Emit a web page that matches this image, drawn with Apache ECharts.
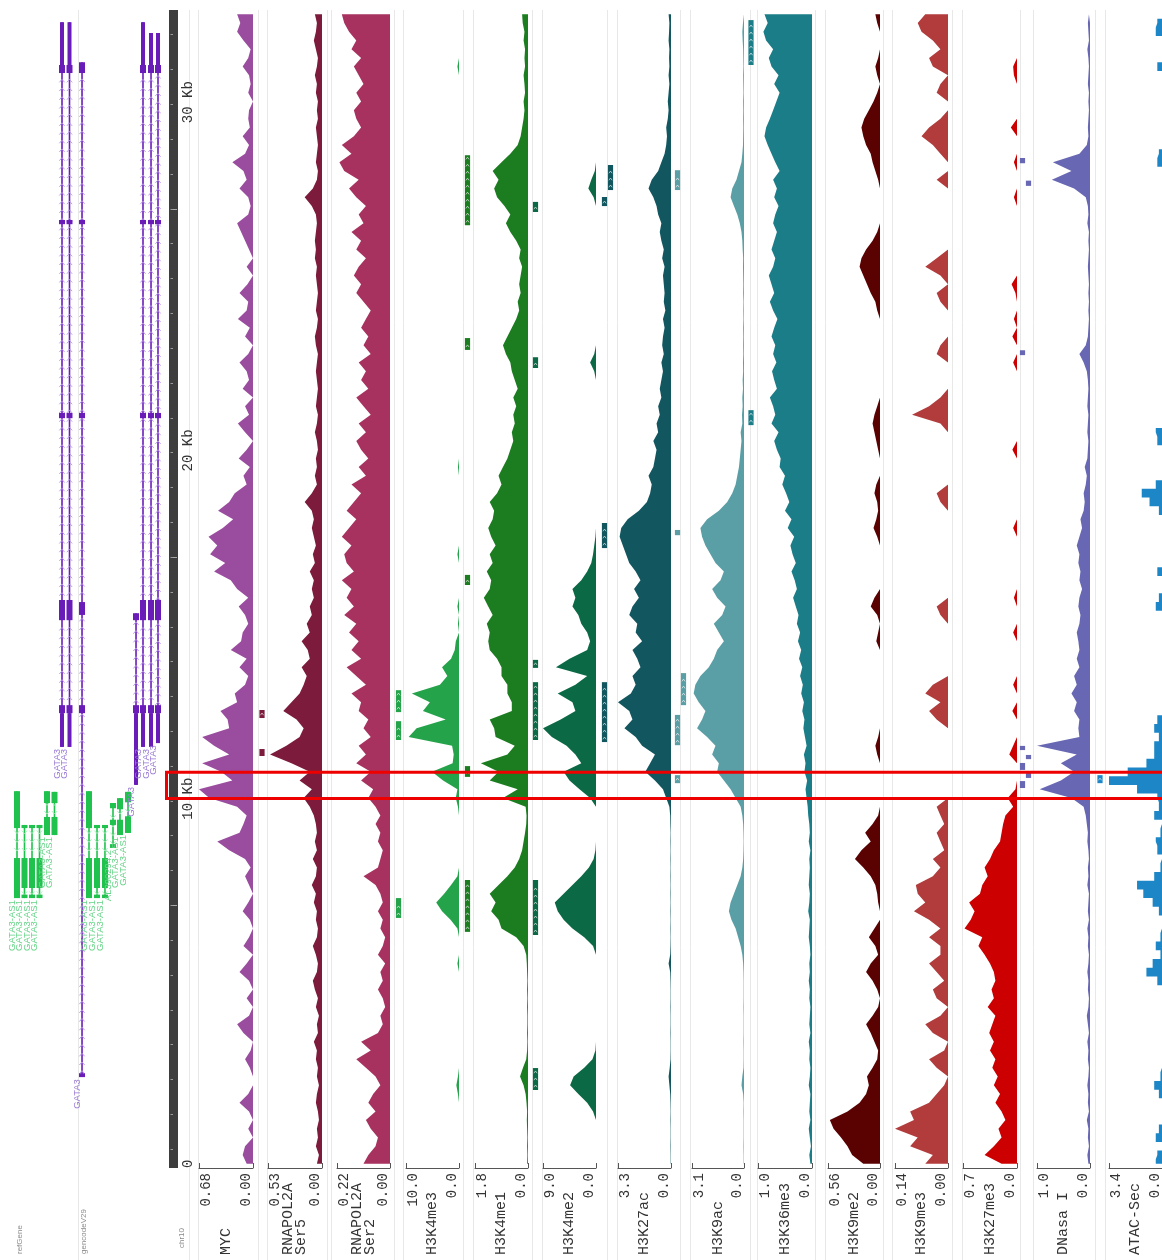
<!DOCTYPE html>
<html>
<head>
<meta charset="utf-8">
<title>GATA3 locus – chromatin tracks</title>
<script src="https://cdn.jsdelivr.net/npm/echarts@6/dist/echarts.min.js"></script>
<style>
  html, body { margin: 0; padding: 0; background: #ffffff; }
  #chart { width: 1162px; height: 1260px; }
</style>
</head>
<body>
<div id="chart"></div>
<script>
// ---------------------------------------------------------------------------
// Genomic window: 0.25 kb bins, bin 0 is the bottom of the view (0 kb)
// ---------------------------------------------------------------------------
const BIN_KB = 0.25;
const N_BINS = 133;
const VIEW_KB = BIN_KB * N_BINS;           // 33.25 kb shown
const binCategories = Array.from({ length: N_BINS }, (_, i) => (i * BIN_KB).toFixed(2));

// ---------------------------------------------------------------------------
// Coverage tracks (one value per bin, bottom -> top)
// ---------------------------------------------------------------------------
const mycSignal = [
  0.08,0.13,0.10,0,0.06,0,0.05,0.17,0.06,0,
  0,0.04,0.10,0.03,0,0.12,0.20,0.05,0,0.08,
  0,0.05,0.17,0.08,0,0.12,0.05,0,0.04,0.13,
  0.06,0,0.05,0.10,0.03,0.10,0.30,0.45,0.17,0.12,
  0.08,0.20,0.55,0.68,0.26,0.40,0.64,0.30,0.49,0.64,
  0.30,0.32,0.41,0.20,0.23,0.10,0.06,0.17,0.08,0.28,
  0.15,0.13,0.06,0.10,0.18,0.06,0.20,0.28,0.49,0.35,
  0.54,0.45,0.56,0.38,0.25,0.44,0.30,0.23,0.08,0.12,
  0.04,0.18,0.08,0,0.10,0.19,0.05,0.10,0,0.13,
  0.05,0.08,0.17,0.06,0,0.10,0.04,0.19,0.08,0.06,
  0.17,0.07,0,0.08,0,0.05,0.10,0.15,0.20,0.06,
  0.03,0.06,0.17,0.08,0.12,0.26,0.10,0.05,0.13,0.04,
  0.06,0.05,0,0.06,0.03,0.05,0.13,0.06,0.03,0.12,
  0.20,0.16,0.20
];
const ser5Signal = [
  0.05,0.03,0.06,0.04,0.05,0.03,0.04,0.06,0.05,0.03,
  0.05,0.04,0.06,0.05,0.08,0.04,0.05,0.03,0.06,0.04,
  0.07,0.09,0.05,0.04,0.06,0.09,0.05,0.04,0.06,0.05,
  0.08,0.06,0.10,0.06,0.05,0.09,0.05,0.07,0.05,0.06,
  0.08,0.12,0.18,0.10,0.22,0.12,0.30,0.51,0.35,0.22,
  0.18,0.25,0.38,0.30,0.22,0.18,0.15,0.20,0.12,0.14,
  0.20,0.12,0.15,0.10,0.12,0.08,0.10,0.08,0.12,0.07,
  0.09,0.06,0.08,0.10,0.08,0.10,0.17,0.10,0.05,0.07,
  0.05,0.06,0.04,0.05,0.07,0.05,0.04,0.06,0.05,0.04,
  0.05,0.06,0.05,0.04,0.06,0.07,0.05,0.04,0.06,0.05,
  0.04,0.05,0.06,0.05,0.07,0.06,0.07,0.06,0.05,0.06,
  0.10,0.17,0.09,0.05,0.04,0.06,0.05,0.04,0.05,0.06,
  0.04,0.05,0.04,0.06,0.05,0.07,0.05,0.04,0.06,0.08,
  0.06,0.05,0.07
];
const ser2Signal = [
  0.11,0.09,0.06,0.05,0.08,0.10,0.06,0.09,0.07,0.04,
  0.06,0.10,0.14,0.08,0.12,0.05,0.03,0.04,0.02,0.03,
  0.05,0.03,0.04,0.02,0.05,0.03,0.02,0.04,0.03,0.05,
  0.03,0.04,0.06,0.11,0.05,0.04,0.03,0.05,0.04,0.06,
  0.04,0.06,0.09,0.07,0.12,0.08,0.14,0.10,0.13,0.08,
  0.11,0.09,0.13,0.12,0.16,0.10,0.14,0.18,0.12,0.16,
  0.13,0.17,0.14,0.19,0.15,0.18,0.16,0.20,0.15,0.18,
  0.19,0.16,0.20,0.17,0.14,0.18,0.15,0.12,0.16,0.10,
  0.13,0.09,0.12,0.14,0.10,0.13,0.08,0.11,0.14,0.09,
  0.12,0.10,0.13,0.08,0.11,0.09,0.12,0.10,0.08,0.11,
  0.14,0.12,0.15,0.13,0.10,0.14,0.12,0.16,0.11,0.13,
  0.10,0.14,0.17,0.13,0.19,0.21,0.16,0.20,0.15,0.12,
  0.14,0.15,0.12,0.14,0.11,0.13,0.15,0.12,0.16,0.14,
  0.17,0.19,0.20
];
const h3k4me3Signal = [
  0,0,0,0,0,0,0,0,0.2,0.5,
  0.2,0,0,0,0,0,0,0,0,0,
  0,0,0,0.3,0,0,0,0.3,1.6,3.2,
  4.3,2.8,1.5,0.3,0,0,0,0,0,0,
  0,0.2,0.6,0.3,3.0,5.1,1.2,1.0,1.3,9.5,
  8.0,2.5,6.8,5.5,8.9,3.6,2.2,3.2,1.5,0.8,
  0.6,0,0.2,0,0.3,0,0,0,0,0,
  0.3,0,0,0,0,0,0,0,0,0,
  0.2,0,0,0,0,0,0,0,0,0,
  0,0,0,0,0,0,0,0,0,0,
  0,0,0,0,0,0,0,0,0,0,
  0,0,0,0,0,0,0,0,0,0,
  0,0,0,0,0,0,0.3,0,0,0,
  0,0,0
];
const h3k4me1Signal = [
  0.03,0.02,0.03,0.02,0.03,0.04,0.03,0.05,0.08,0.15,
  0.27,0.17,0.06,0.03,0.02,0.03,0.02,0.02,0.03,0.02,
  0.03,0.02,0.03,0.04,0.06,0.15,0.4,0.9,1.0,1.25,
  1.1,1.3,1.0,0.7,0.45,0.3,0.2,0.15,0.1,0.06,
  0.05,0.08,0.85,0.35,1.3,1.0,1.6,0.7,0.45,1.1,
  1.15,1.3,0.55,0.55,0.7,0.7,0.9,0.9,1.05,1.3,
  1.35,1.3,1.4,1.2,1.35,1.5,1.3,1.25,1.4,1.2,
  1.3,1.1,1.25,1.35,1.2,1.15,1.3,1.05,0.9,1.0,
  0.85,0.7,0.6,0.5,0.55,0.45,0.5,0.4,0.5,0.35,
  0.45,0.55,0.6,0.75,0.85,0.7,0.55,0.4,0.3,0.35,
  0.25,0.3,0.25,0.2,0.3,0.25,0.4,0.6,0.75,0.6,
  0.8,1.05,1.15,1.0,1.2,0.9,0.6,0.35,0.25,0.2,
  0.15,0.12,0.15,0.1,0.12,0.15,0.1,0.12,0.1,0.15,
  0.12,0.18,0.2
];
const h3k4me2Signal = [
  0,0,0,0,0,0,0.5,1.5,3.0,4.4,
  3.8,2.0,0.6,0.1,0,0,0,0,0,0,
  0,0,0,0,0,0.5,2.0,4.0,5.5,6.5,
  7.0,5.5,4.0,2.5,1.2,0.4,0.1,0,0,0,
  0,0,1.0,2.8,4.5,5.5,2.5,3.5,5.0,7.5,
  9.0,6.0,3.5,4.0,6.5,3.5,1.5,6.8,4.5,1.5,
  1.0,1.5,2.5,3.0,4.0,3.5,4.0,2.5,1.5,0.8,
  0.5,0.3,0.1,0,0,0,0,0,0,0,
  0,0,0,0,0,0,0,0,0,0,
  0,0.3,1.0,0.3,0,0,0,0,0,0,
  0,0,0,0,0,0,0,0,0,0,
  0,0.4,1.3,0.8,0.2,0,0,0,0,0,
  0,0,0,0,0,0,0,0,0,0,
  0,0,0
];
const h3k27acSignal = [
  0.02,0.02,0.03,0.02,0.02,0.03,0.02,0.03,0.05,0.1,
  0.15,0.08,0.03,0.02,0.02,0.03,0.02,0.02,0.03,0.02,
  0.02,0.03,0.05,0.15,0.05,0.03,0.02,0.03,0.02,0.03,
  0.02,0.03,0.02,0.03,0.02,0.03,0.02,0.03,0.02,0.04,
  0.05,0.1,0.3,0.5,1.0,1.6,1.3,1.0,1.8,2.2,
  2.9,2.4,2.6,3.3,2.5,2.2,2.4,1.9,2.1,2.4,
  1.8,2.2,2.1,2.6,2.4,2.0,2.3,1.9,2.2,2.6,
  2.8,3.0,3.2,3.1,2.7,2.0,1.5,1.3,1.2,1.4,
  1.1,1.0,0.9,1.1,0.8,0.9,0.7,0.8,0.6,0.7,
  0.6,0.5,0.6,0.45,0.55,0.5,0.4,0.5,0.35,0.45,
  0.4,0.45,0.5,0.4,0.55,0.45,0.6,0.7,0.6,0.8,
  0.9,1.1,1.4,1.2,0.8,0.6,0.4,0.3,0.25,0.3,
  0.2,0.15,0.2,0.15,0.1,0.15,0.1,0.12,0.1,0.15,
  0.12,0.1,0.15
];
const h3k9acSignal = [
  0.02,0.02,0.03,0.02,0.02,0.02,0.03,0.02,0.05,0.15,
  0.1,0.03,0.02,0.02,0.03,0.02,0.02,0.02,0.03,0.02,
  0.02,0.02,0.03,0.05,0.1,0.2,0.35,0.5,0.75,0.9,
  0.8,0.6,0.4,0.2,0.1,0.05,0.03,0.02,0.03,0.05,
  0.1,0.2,0.5,0.8,1.2,1.6,1.5,1.9,1.7,2.2,
  2.8,2.5,2.3,2.7,3.0,2.9,2.6,2.1,1.8,1.6,
  1.2,1.5,1.8,1.3,1.1,1.6,1.9,1.4,1.2,1.7,
  2.0,2.3,2.5,2.6,2.2,1.5,1.0,0.7,0.5,0.4,
  0.3,0.25,0.2,0.15,0.2,0.1,0.12,0.08,0.1,0.06,
  0.08,0.05,0.06,0.04,0.05,0.04,0.05,0.03,0.04,0.03,
  0.05,0.04,0.05,0.06,0.05,0.08,0.1,0.15,0.25,0.4,
  0.6,0.8,0.7,0.45,0.3,0.15,0.1,0.06,0.05,0.04,
  0.05,0.04,0.05,0.03,0.04,0.05,0.03,0.04,0.05,0.08,
  0.1,0.06,0.05
];
const h3k36me3Signal = [
  0.03,0.05,0.02,0.04,0.06,0.03,0.05,0.04,0.03,0.06,
  0.04,0.03,0.05,0.04,0.06,0.03,0.05,0.04,0.03,0.05,
  0.04,0.06,0.04,0.05,0.03,0.04,0.06,0.05,0.04,0.07,
  0.05,0.04,0.06,0.05,0.04,0.05,0.03,0.06,0.04,0.05,
  0.07,0.08,0.1,0.12,0.09,0.14,0.12,0.15,0.1,0.13,
  0.16,0.14,0.18,0.15,0.2,0.17,0.22,0.18,0.24,0.2,
  0.26,0.22,0.28,0.25,0.3,0.35,0.28,0.32,0.38,0.3,
  0.36,0.4,0.33,0.45,0.38,0.5,0.42,0.48,0.55,0.5,
  0.6,0.58,0.65,0.7,0.62,0.75,0.68,0.72,0.78,0.65,
  0.7,0.74,0.66,0.72,0.68,0.75,0.7,0.64,0.72,0.78,
  0.7,0.75,0.8,0.72,0.68,0.75,0.7,0.65,0.72,0.68,
  0.62,0.7,0.65,0.72,0.6,0.68,0.75,0.82,0.88,0.85,
  0.78,0.72,0.66,0.6,0.7,0.62,0.75,0.8,0.72,0.85,
  0.9,0.82,0.88
];
const h3k9me2Signal = [
  0.18,0.3,0.35,0.42,0.5,0.54,0.35,0.22,0.15,0.12,
  0.14,0.08,0.03,0.02,0.06,0.1,0.15,0.08,0.02,0,
  0.03,0.08,0.15,0.1,0.02,0.05,0.12,0.06,0,0,
  0.02,0.03,0.05,0.1,0.18,0.27,0.2,0.1,0.16,0.08,
  0.02,0,0,0,0,0,0,0.03,0.05,0.02,
  0,0,0,0,0,0,0,0,0,0,
  0.04,0.02,0,0.03,0.1,0.06,0,0,0,0,
  0,0,0.03,0.07,0.04,0.02,0.03,0.06,0.04,0,
  0,0,0.02,0.04,0.06,0.08,0.06,0.03,0,0,
  0,0,0,0,0,0,0,0,0.03,0.05,
  0.1,0.14,0.18,0.22,0.2,0.15,0.08,0.03,0,0,
  0,0,0,0.02,0.05,0.08,0.1,0.15,0.18,0.2,
  0.17,0.12,0.07,0.03,0,0.03,0.05,0.02,0,0,
  0,0.03,0.05
];
const h3k9me3Signal = [
  0.06,0.04,0.1,0.08,0.14,0.09,0.1,0.05,0.03,0.01,
  0,0.03,0.05,0.01,0,0.04,0.06,0.02,0,0.03,
  0.04,0.01,0.03,0.05,0.02,0.02,0.05,0.02,0.05,0.09,
  0.06,0.08,0.085,0.04,0.02,0.04,0.01,0.02,0.03,0.01,
  0.02,0.03,0,0,0,0,0,0,0,0,
  0,0.03,0.05,0.02,0.06,0.04,0,0,0,0,
  0,0,0,0.02,0.03,0,0,0,0,0,
  0,0,0,0,0,0,0.02,0.03,0,0,
  0,0,0,0,0,0.02,0.095,0.05,0.02,0,
  0,0,0,0.03,0.02,0,0,0,0,0.02,
  0.03,0,0.02,0.06,0.03,0,0,0,0,0,
  0,0,0,0.03,0,0,0.02,0.04,0.07,0.05,
  0.02,0,0,0.03,0.02,0,0.04,0.05,0.02,0.04,
  0.07,0.08,0.06
];
const h3k27me3Signal = [
  0.2,0.42,0.3,0.2,0.24,0.15,0.2,0.28,0.22,0.3,
  0.25,0.32,0.28,0.35,0.3,0.36,0.32,0.28,0.38,0.3,
  0.33,0.28,0.3,0.35,0.42,0.5,0.45,0.68,0.6,0.55,
  0.62,0.48,0.45,0.38,0.42,0.35,0.3,0.22,0.2,0.18,
  0.15,0.05,0.12,0.02,0,0,0,0.1,0.05,0,
  0,0,0.06,0,0,0.05,0,0,0,0,
  0,0.05,0,0,0,0.04,0,0,0,0,
  0,0,0,0.05,0,0,0,0,0,0,
  0,0,0.06,0,0,0,0,0,0,0,
  0,0,0.05,0,0,0.06,0,0.04,0,0,
  0.02,0.07,0,0,0,0,0,0,0,0,
  0,0.04,0,0,0,0.04,0,0,0,0.08,
  0,0,0,0,0,0.04,0.05,0,0,0,
  0,0,0
];
const dnaseSignal = [
  0.03,0.05,0.02,0.04,0.03,0.06,0.02,0.04,0.03,0.05,
  0.03,0.02,0.04,0.03,0.05,0.02,0.04,0.06,0.03,0.02,
  0.04,0.03,0.05,0.03,0.02,0.04,0.03,0.05,0.02,0.04,
  0.03,0.02,0.05,0.03,0.04,0.02,0.03,0.05,0.04,0.06,
  0.08,0.12,0.35,0.95,0.55,0.3,0.55,0.25,1.0,0.2,
  0.22,0.2,0.3,0.25,0.35,0.25,0.3,0.2,0.25,0.2,
  0.22,0.25,0.2,0.18,0.22,0.2,0.15,0.2,0.18,0.22,
  0.2,0.25,0.2,0.15,0.18,0.12,0.1,0.12,0.08,0.06,
  0.1,0.05,0.04,0.03,0.05,0.04,0.03,0.05,0.04,0.03,
  0.04,0.06,0.12,0.2,0.08,0.04,0.03,0.02,0.03,0.02,
  0.03,0.02,0.03,0.04,0.03,0.02,0.03,0.02,0.05,0.03,
  0.04,0.08,0.3,0.72,0.35,0.7,0.2,0.06,0.03,0.04,
  0.03,0.02,0.03,0.02,0.04,0.03,0.02,0.03,0.05,0.02,
  0.03,0.04,0.02
];
const atacSignal = [
  0.4,0.3,0,0.4,0.2,0,0,0,0.2,0.5,
  0.1,0,0,0,0,0,0,0,0,0,
  0,0.3,1.0,0.6,0.1,0.4,0.1,0,0,0.2,
  0.6,1.2,1.6,0.5,0.1,0,0.3,0.4,0.1,0,
  0.5,0.2,0.3,1.6,3.4,2.2,1.0,0.5,0.5,0.2,
  0.5,0.3,0,0,0,0,0,0,0,0,
  0,0,0,0,0.4,0.2,0,0,0.3,0,
  0,0,0,0,0,0.2,0.8,1.3,0.4,0,
  0,0,0,0.3,0.4,0,0,0,0,0,
  0,0,0,0,0,0,0,0,0,0,
  0,0,0,0,0,0,0,0,0,0,
  0,0,0,0,0,0.3,0.2,0,0,0,
  0,0,0,0,0,0,0.3,0,0,0,
  0.4,0.3,0
];

// Track names, scale maxima and tick-label precision
const trackNames = ['MYC', 'RNAPOL2A\nSer5', 'RNAPOL2A\nSer2', 'H3K4me3', 'H3K4me1', 'H3K4me2',
  'H3K27ac', 'H3K9ac', 'H3K36me3', 'H3K9me2', 'H3K9me3', 'H3K27me3', 'DNasa I', 'ATAC-Sec'];
const trackMax = [0.68, 0.53, 0.22, 10.0, 1.8, 9.0, 3.3, 3.1, 1.0, 0.56, 0.14, 0.7, 1.0, 3.4];
const trackDigits = [2, 2, 2, 1, 1, 1, 1, 1, 1, 2, 2, 1, 1, 1];
const trackSignals = [mycSignal, ser5Signal, ser2Signal, h3k4me3Signal, h3k4me1Signal, h3k4me2Signal,
  h3k27acSignal, h3k9acSignal, h3k36me3Signal, h3k9me2Signal, h3k9me3Signal, h3k27me3Signal,
  dnaseSignal, atacSignal];
const trackColors = ['#9a4c9e', '#7c1b3c', '#a8325f', '#25a34b', '#1b7d20', '#0b6a45',
  '#12575f', '#5b9fa6', '#1b7d87', '#5a0202', '#b23b3b', '#cc0000', '#6767b4', '#1d86c6'];

// Called peaks: [lane, start kb, end kb]
const ser5Peaks   = [[0, 12.92, 13.15], [0, 11.83, 12.03]];
const h3k4me3Peaks = [[0, 13.09, 13.72], [0, 12.29, 12.83], [0, 7.18, 7.75]];
const h3k4me1Peaks = [[0, 27.07, 29.08], [0, 23.49, 23.83], [0, 16.74, 17.03], [0, 11.23, 11.54], [0, 6.78, 8.27]];
const h3k4me2Peaks = [[0, 27.45, 27.74], [0, 22.97, 23.28], [0, 14.36, 14.59], [0, 12.29, 13.95], [0, 6.69, 8.27], [0, 2.24, 2.87]];
const h3k27acPeaks = [[1, 28.08, 28.80], [0, 27.62, 27.88], [0, 17.80, 18.52], [0, 12.23, 13.95]];
const h3k9acPeaks  = [[0, 28.08, 28.65], [0, 18.17, 18.32], [1, 13.29, 14.21], [0, 12.14, 13.01], [0, 11.05, 11.28]];
const h3k36me3Peaks = [[0, 31.67, 32.96], [0, 21.33, 21.76]];
const dnasePeaks   = [[0, 12.0, 12.12], [1, 11.74, 11.86], [0, 11.43, 11.63], [1, 11.2, 11.34], [0, 10.91, 11.11],
  [0, 28.85, 29.0], [1, 28.2, 28.35], [0, 23.34, 23.48]];
const atacPeaks    = [[0, 11.05, 11.28]];

// Gene models (kb); exon type 1 = coding/exonic block, 0 = UTR
const transcripts = [
  // refGene
  { lane: 0, strand: '-', start: 7.75, end: 10.82, name: 'GATA3-AS1', exons: [[9.76, 10.82, 1], [7.75, 8.90, 1]] },
  { lane: 1, strand: '-', start: 7.75, end: 9.85, name: 'GATA3-AS1', exons: [[9.76, 9.85, 1], [8.04, 8.90, 1], [7.75, 7.85, 1]] },
  { lane: 2, strand: '-', start: 7.75, end: 9.85, name: 'GATA3-AS1', exons: [[9.76, 9.85, 1], [8.04, 8.90, 1], [7.75, 7.85, 1]] },
  { lane: 3, strand: '-', start: 7.75, end: 9.85, name: 'GATA3-AS1', exons: [[9.76, 9.85, 1], [8.04, 8.90, 1], [7.75, 7.85, 1]] },
  { lane: 4, strand: '-', start: 9.56, end: 10.82, name: 'GATA3-AS1', exons: [[10.48, 10.82, 1], [9.56, 10.08, 1]] },
  { lane: 5, strand: '-', start: 9.56, end: 10.80, name: 'GATA3-AS1', exons: [[10.48, 10.80, 1], [9.56, 10.08, 1]] },
  { lane: 6, strand: '+', start: 12.09, end: 32.90, name: 'GATA3', exons: [[12.09, 13.06, 0], [13.06, 13.29, 1], [15.73, 16.31, 1], [21.53, 21.68, 1], [27.10, 27.22, 1], [31.44, 31.67, 1], [31.67, 32.90, 0]] },
  { lane: 7, strand: '+', start: 12.09, end: 32.90, name: 'GATA3', exons: [[12.09, 13.06, 0], [13.06, 13.29, 1], [15.73, 16.31, 1], [21.53, 21.68, 1], [27.10, 27.22, 1], [31.44, 31.67, 1], [31.67, 32.90, 0]] },
  // gencodeV29
  { lane: 8.67, strand: '+', start: 2.61, end: 31.75, name: 'GATA3', exons: [[2.61, 2.72, 1], [13.06, 13.29, 1], [15.88, 16.25, 1], [21.53, 21.68, 1], [27.10, 27.22, 1], [31.44, 31.75, 1]] },
  { lane: 9.6, strand: '-', start: 7.75, end: 10.82, name: 'GATA3-AS1', exons: [[9.76, 10.82, 1], [7.75, 8.90, 1]] },
  { lane: 10.67, strand: '-', start: 7.75, end: 9.85, name: 'GATA3-AS1', exons: [[9.76, 9.85, 1], [8.04, 8.90, 1], [7.75, 7.85, 1]] },
  { lane: 11.73, strand: '-', start: 7.75, end: 9.85, name: 'GATA3-AS1', exons: [[9.76, 9.85, 1], [8.04, 8.90, 1], [7.75, 7.85, 1]] },
  { lane: 12.8, strand: '-', start: 9.19, end: 10.48, name: 'AL390294.2', exons: [[10.33, 10.48, 1], [9.85, 10.0, 1], [9.19, 9.30, 1]] },
  { lane: 13.73, strand: '-', start: 9.56, end: 10.62, name: 'GATA3-AS1', exons: [[10.30, 10.62, 1], [9.56, 10.0, 1]] },
  { lane: 14.8, strand: '-', start: 9.62, end: 10.80, name: 'GATA3-AS1', exons: [[10.50, 10.80, 1], [9.62, 10.10, 1]] },
  { lane: 15.87, strand: '+', start: 11.00, end: 15.93, name: 'GATA3', exons: [[11.00, 13.06, 0], [13.06, 13.29, 1], [15.73, 15.93, 1]] },
  { lane: 16.8, strand: '+', start: 12.09, end: 32.90, name: 'GATA3', exons: [[12.09, 13.06, 0], [13.06, 13.29, 1], [15.73, 16.31, 1], [21.53, 21.68, 1], [27.10, 27.22, 1], [31.44, 31.67, 1], [31.67, 32.90, 0]] },
  { lane: 17.87, strand: '+', start: 12.09, end: 32.59, name: 'GATA3', exons: [[12.09, 13.06, 0], [13.06, 13.29, 1], [15.73, 16.31, 1], [21.53, 21.68, 1], [27.10, 27.22, 1], [31.44, 31.67, 1], [31.67, 32.59, 0]] },
  { lane: 18.8, strand: '+', start: 12.20, end: 32.59, name: 'GATA3', exons: [[12.20, 13.06, 0], [13.06, 13.29, 1], [15.73, 16.31, 1], [21.53, 21.68, 1], [27.10, 27.22, 1], [31.44, 31.67, 1], [31.67, 32.59, 0]] }
];

// Ruler
const rulerLabelStepKb = 10;
const ideogramTickPhaseKb = 0.54;   // chromosome 1-kb ticks fall 0.54 kb above the view start
const highlightKb = [10.61, 11.36];  // region boxed in red

// ---------------------------------------------------------------------------
// Layout (pixels)
// ---------------------------------------------------------------------------
const W = 1162, H = 1260;
const PLOT_TOP = 10, PLOT_BASE = 1168;
const PX_PER_KB = (PLOT_BASE - PLOT_TOP) / VIEW_KB;
const trackAxisX = [[199,253],[268,322],[337,390],[406,459],[475,528],[543,596],[618,671],
  [692,744],[758,812],[828,880],[895,948],[963,1017],[1037,1090],[1109,1162]];
const trackPanelX = [[198,258],[267,327],[331,394],[403,463],[473,532],[542,607],[617,680],
  [690,750],[757,815],[825,883],[892,952],[962,1020],[1033,1095],[1105,1170]];
const extraPanelLines = [78, 189];
const peakColumns = [
  { track: 1, lanesX: [262], peaks: ser5Peaks },
  { track: 3, lanesX: [398.5], peaks: h3k4me3Peaks },
  { track: 4, lanesX: [467.5], peaks: h3k4me1Peaks },
  { track: 5, lanesX: [535.5], peaks: h3k4me2Peaks },
  { track: 6, lanesX: [604.5, 610.5], peaks: h3k27acPeaks },
  { track: 7, lanesX: [677.5, 683.5], peaks: h3k9acPeaks },
  { track: 8, lanesX: [751], peaks: h3k36me3Peaks },
  { track: 12, lanesX: [1022.5, 1028.5], peaks: dnasePeaks },
  { track: 13, lanesX: [1100], peaks: atacPeaks }
];
const GENE_PANEL = { left: 0, width: 165, laneOriginPx: 17, laneStepPx: 7.5 };
const MONO = "'Liberation Mono', 'DejaVu Sans Mono', monospace";
const SANS = "'Liberation Sans', 'DejaVu Sans', Arial, sans-serif";
const PURPLE = '#6a1cb8', PURPLE_LABEL = '#9b7ad6', PURPLE_CHEV = '#b996ea';
const GREEN = '#1ec24d', GREEN_LABEL = '#66d488', GREEN_CHEV = '#a6ecbc';

// ---------------------------------------------------------------------------
// Build the option
// ---------------------------------------------------------------------------
const grid = [], xAxis = [], yAxis = [], series = [];
const gridBottom = H - PLOT_BASE;

function addCartesian(g, xa, ya) {
  grid.push(Object.assign({ containLabel: false, outerBoundsMode: 'none' }, g));
  const gi = grid.length - 1;
  xAxis.push(Object.assign({ gridIndex: gi }, xa));
  yAxis.push(Object.assign({ gridIndex: gi }, ya));
  return { g: gi, x: xAxis.length - 1, y: yAxis.length - 1 };
}
const hiddenValue = (min, max) => ({ type: 'value', show: false, min, max, splitLine: { show: false } });
const genomeAxis = () => hiddenValue(0, VIEW_KB);

// Coverage tracks
trackSignals.forEach((values, k) => {
  const [x0, x1] = trackAxisX[k];
  const digits = trackDigits[k];
  const c = addCartesian(
    { left: x0, width: x1 - x0, top: PLOT_TOP, bottom: gridBottom },
    {
      type: 'value', inverse: true, min: 0, max: trackMax[k], interval: trackMax[k],
      axisLine: { show: true, lineStyle: { color: '#555', width: 1 } },
      axisTick: { show: true, inside: true, length: 5, lineStyle: { color: '#555' } },
      splitLine: { show: false },
      axisLabel: {
        rotate: 90, margin: 5, fontFamily: MONO, fontSize: 14, color: '#333',
        formatter: v => v.toFixed(digits),
        verticalAlignMinLabel: 'bottom', verticalAlignMaxLabel: 'top'
      }
    },
    { type: 'category', data: binCategories, boundaryGap: true, show: false }
  );
  series.push({
    type: 'line', xAxisIndex: c.x, yAxisIndex: c.y, data: values,
    symbol: 'none', silent: true, step: k === 13 ? 'middle' : false,
    lineStyle: { width: 0 }, areaStyle: { color: trackColors[k], opacity: 1 }
  });
});

// Peak boxes
function renderPeak(params, api) {
  const lane = api.value(0);
  const a = api.coord([lane, api.value(1)]);
  const b = api.coord([lane, api.value(2)]);
  const x = a[0];
  const h = Math.max(a[1] - b[1], 2);
  const kids = [{ type: 'rect', shape: { x: x - 2.6, y: b[1], width: 5.2, height: h },
    style: { fill: api.visual('color') } }];
  for (let y = a[1] - 4; y > b[1] + 3; y -= 7) {
    kids.push({ type: 'polyline', shape: { points: [[x - 1.6, y + 1.2], [x, y - 1], [x + 1.6, y + 1.2]] },
      style: { stroke: 'rgba(255,255,255,0.75)', lineWidth: 0.8, fill: null } });
  }
  return { type: 'group', children: kids };
}
peakColumns.forEach(p => {
  const n = p.lanesX.length;
  const left = p.lanesX[0] - 3;
  const width = (p.lanesX[n - 1] - p.lanesX[0]) + 6;
  const c = addCartesian({ left, width, top: PLOT_TOP, bottom: gridBottom },
    hiddenValue(-0.5, n - 0.5), genomeAxis());
  series.push({
    type: 'custom', xAxisIndex: c.x, yAxisIndex: c.y, silent: true,
    itemStyle: { color: trackColors[p.track] },
    encode: { x: 0, y: [1, 2] }, data: p.peaks, renderItem: renderPeak
  });
});

// Gene models
const laneMin = (GENE_PANEL.left - GENE_PANEL.laneOriginPx) / GENE_PANEL.laneStepPx;
const laneMax = laneMin + GENE_PANEL.width / GENE_PANEL.laneStepPx;
function renderTranscript(params, api) {
  const t = transcripts[api.value(3)];
  const isPlus = t.strand === '+';
  const col = isPlus ? PURPLE : GREEN;
  const chev = isPlus ? PURPLE_CHEV : GREEN_CHEV;
  const lab = isPlus ? PURPLE_LABEL : GREEN_LABEL;
  const p0 = api.coord([t.lane, t.start]);
  const p1 = api.coord([t.lane, t.end]);
  const x = p0[0];
  const kids = [{ type: 'line', shape: { x1: x, y1: p0[1], x2: x, y2: p1[1] }, style: { stroke: col, lineWidth: 1.6 } }];
  const inExon = kb => t.exons.some(e => kb >= e[0] && kb <= e[1]);
  for (let y = p0[1] - 5; y > p1[1] + 3; y -= 8.7) {
    const kb = (PLOT_BASE - y) / PX_PER_KB;
    if (inExon(kb)) continue;
    const pts = isPlus ? [[x - 2.6, y + 1.6], [x, y - 1.4], [x + 2.6, y + 1.6]]
                       : [[x - 2.6, y - 1.6], [x, y + 1.4], [x + 2.6, y - 1.6]];
    kids.push({ type: 'polyline', shape: { points: pts }, style: { stroke: chev, lineWidth: 1, fill: null } });
  }
  t.exons.forEach(e => {
    const a = api.coord([t.lane, e[0]]);
    const b = api.coord([t.lane, e[1]]);
    const w = e[2] ? 6 : 4;
    kids.push({ type: 'rect', shape: { x: x - w / 2, y: b[1], width: w, height: Math.max(a[1] - b[1], 2) },
      style: { fill: col } });
  });
  kids.push({ type: 'text', x: x - 5, y: p0[1] + 2, rotation: Math.PI / 2,
    style: { text: t.name, fill: lab, font: '9.5px ' + SANS, align: 'right', verticalAlign: 'middle' } });
  return { type: 'group', children: kids };
}
const geneAxes = addCartesian(
  { left: GENE_PANEL.left, width: GENE_PANEL.width, top: PLOT_TOP, bottom: gridBottom },
  hiddenValue(laneMin, laneMax), genomeAxis());
series.push({
  type: 'custom', xAxisIndex: geneAxes.x, yAxisIndex: geneAxes.y, silent: true, clip: false,
  encode: { x: 0, y: [1, 2] },
  data: transcripts.map((t, i) => [t.lane, t.start, t.end, i]),
  renderItem: renderTranscript
});

// Ideogram bar with relative ruler labels
const ruler = addCartesian(
  { left: 173, width: 4, top: PLOT_TOP, bottom: gridBottom },
  hiddenValue(0, 1),
  { type: 'value', position: 'left', min: 0, max: VIEW_KB,
    axisLine: { show: true, lineStyle: { color: '#3d3d3d', width: 9, cap: 'butt' } },
    axisTick: { show: false }, axisLabel: { show: false }, splitLine: { show: false } });
yAxis.push({
  gridIndex: ruler.g, type: 'value', position: 'right', min: 0, max: VIEW_KB, interval: rulerLabelStepKb,
  axisLine: { show: false }, axisTick: { show: false }, splitLine: { show: false },
  axisLabel: { rotate: 90, align: 'left', verticalAlign: 'top', margin: 4, fontFamily: MONO, fontSize: 14,
    color: '#333', showMaxLabel: false, formatter: v => (v === 0 ? '0' : v + ' Kb') }
});
// 1-kb chromosome ticks (phase-shifted)
const tickSpan = Math.floor(VIEW_KB - ideogramTickPhaseKb);
const tickBaseY = PLOT_BASE - ideogramTickPhaseKb * PX_PER_KB;
addCartesian(
  { left: 173, width: 4, top: tickBaseY - tickSpan * PX_PER_KB, bottom: H - tickBaseY },
  hiddenValue(0, 1),
  { type: 'value', position: 'right', min: 0, max: tickSpan, interval: 1,
    axisLine: { show: false }, axisLabel: { show: false }, splitLine: { show: false },
    axisTick: { show: true, inside: true, length: 2.5, lineStyle: { color: '#9a9a9a', width: 1 } } });
// 10-kb chromosome ticks
const majorLowKb = ideogramTickPhaseKb + 7, majorHighKb = ideogramTickPhaseKb + 27;
addCartesian(
  { left: 173, width: 4, top: PLOT_BASE - majorHighKb * PX_PER_KB, bottom: H - (PLOT_BASE - majorLowKb * PX_PER_KB) },
  hiddenValue(0, 1),
  { type: 'value', position: 'left', min: 0, max: 20, interval: 10,
    axisLine: { show: false }, axisLabel: { show: false }, splitLine: { show: false },
    axisTick: { show: true, inside: true, length: 4, lineStyle: { color: '#a8a8a8', width: 1 } } });

const option = { animation: false, backgroundColor: '#ffffff', grid, xAxis, yAxis, series };

const chart = echarts.init(document.getElementById('chart'), null, { renderer: 'canvas', width: W, height: H });
chart.setOption(option);

// ---------------------------------------------------------------------------
// Panel separators, labels and the highlighted region
// ---------------------------------------------------------------------------
const graphics = [];
const sepX = extraPanelLines.concat(...trackPanelX);
sepX.forEach(x => graphics.push({
  type: 'line', silent: true, z: -1,
  shape: { x1: x + 0.5, y1: PLOT_TOP, x2: x + 0.5, y2: H }, style: { stroke: '#e8e8e8', lineWidth: 1 }
}));
trackNames.forEach((name, k) => {
  const cx = (trackAxisX[k][0] + trackAxisX[k][1]) / 2;
  graphics.push({ type: 'text', x: cx, y: 1255, rotation: Math.PI / 2, silent: true,
    style: { text: name, font: '15px ' + MONO, fill: '#333', align: 'left', verticalAlign: 'middle', lineHeight: 13 } });
});
[['refGene', 19.5, 1254], ['gencodeV29', 83.5, 1254], ['chr10', 182, 1248]].forEach(([t, x, y]) => {
  graphics.push({ type: 'text', x, y, rotation: Math.PI / 2, silent: true,
    style: { text: t, font: '8px ' + SANS, fill: '#8a8a8a', align: 'left', verticalAlign: 'middle' } });
});
const bandY = chart.convertToPixel({ xAxisIndex: ruler.x, yAxisIndex: ruler.y }, [0, 16.5])[1];
graphics.push({ type: 'text', x: 173, y: bandY, rotation: Math.PI / 2, silent: true,
  style: { text: 'p14', font: '6px ' + SANS, fill: '#bdbdbd', align: 'center', verticalAlign: 'middle' } });

const hiTop = chart.convertToPixel({ xAxisIndex: geneAxes.x, yAxisIndex: geneAxes.y }, [0, highlightKb[1]])[1];
const hiBot = chart.convertToPixel({ xAxisIndex: geneAxes.x, yAxisIndex: geneAxes.y }, [0, highlightKb[0]])[1];
graphics.push({ type: 'rect', silent: true, z: 100,
  shape: { x: 166.5, y: hiTop, width: W, height: hiBot - hiTop },
  style: { fill: null, stroke: '#ee0000', lineWidth: 3 } });

chart.setOption({ graphic: graphics });
</script>
</body>
</html>
